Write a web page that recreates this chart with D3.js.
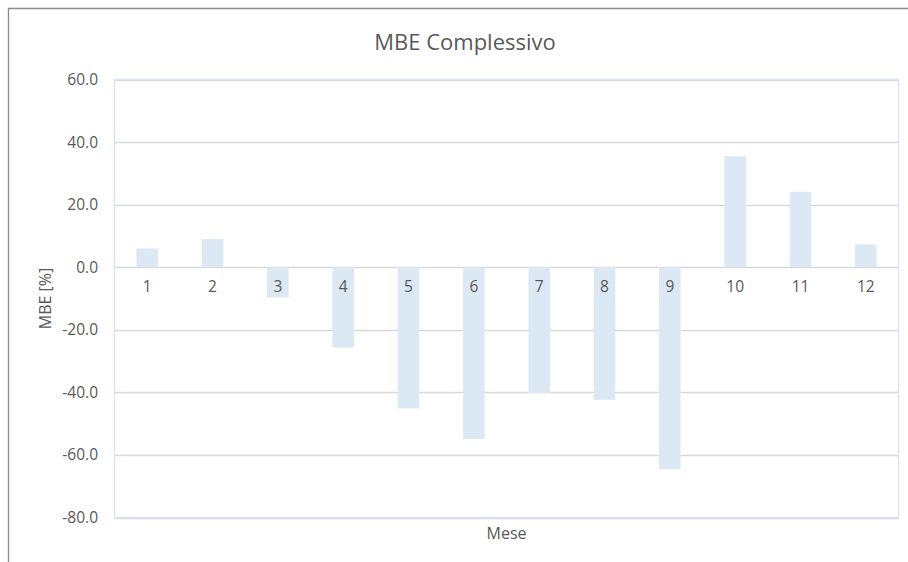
<!DOCTYPE html>
<html>
<head>
<meta charset="utf-8">
<script src="https://cdn.jsdelivr.net/npm/d3@7"></script>
<style>
  html, body { margin: 0; padding: 0; background: #fff; }
  svg { display: block; font-family: "Open Sans", "Liberation Sans", sans-serif; }
</style>
</head>
<body>
<svg id="chart" width="908" height="562"></svg>
<script>
// Monthly MBE values [%]
const months = ["1", "2", "3", "4", "5", "6", "7", "8", "9", "10", "11", "12"];
const mbe = [6.0, 9.0, -9.7, -25.7, -45.1, -54.9, -40.3, -42.4, -64.6, 35.5, 24.1, 7.3];
const yTicks = [60, 40, 20, 0, -20, -40, -60, -80];

const titleText = "MBE Complessivo";
const xTitle = "Mese";
const yTitle = "MBE [%]";

const svg = d3.select("#chart");
const W = 908, H = 562;
const plot = { left: 114.5, right: 898.5, top: 79.5, bottom: 517.5 };
const textColor = "#595959";

// One decimal, plain hyphen for negatives
const fmt = d => d.toFixed(1);

// Outer chart frame (top and left edges visible)
svg.append("path")
  .attr("d", `M8.5,${H} V8.5 H${W}`)
  .attr("fill", "none")
  .attr("stroke", "#8c8c8c")
  .attr("stroke-width", 1.3);

const x = d3.scaleBand()
  .domain(months)
  .range([plot.left, plot.right])
  .paddingInner(0.67)
  .paddingOuter(0.335);

const y = d3.scaleLinear()
  .domain([-80, 60])
  .range([plot.bottom, plot.top]);

// Horizontal gridlines
svg.append("g")
  .selectAll("line")
  .data(yTicks)
  .join("line")
  .attr("x1", plot.left)
  .attr("x2", plot.right)
  .attr("y1", d => Math.round(y(d)) + 0.5)
  .attr("y2", d => Math.round(y(d)) + 0.5)
  .attr("stroke", "#d9d9d9")
  .attr("stroke-width", 1.3);

// Bars
svg.append("g")
  .selectAll("rect")
  .data(mbe)
  .join("rect")
  .attr("x", (d, i) => x(months[i]))
  .attr("width", x.bandwidth())
  .attr("y", d => y(Math.max(0, d)))
  .attr("height", d => Math.abs(y(d) - y(0)))
  .attr("fill", "#dde8f5");

// Plot area border
svg.append("rect")
  .attr("x", plot.left)
  .attr("y", plot.top)
  .attr("width", plot.right - plot.left)
  .attr("height", plot.bottom - plot.top)
  .attr("fill", "none")
  .attr("stroke", "#dae5f4")
  .attr("stroke-width", 1.5);

// Y axis tick labels
const yAxis = d3.axisLeft(y)
  .tickValues(yTicks)
  .tickFormat(fmt)
  .tickSize(0)
  .tickPadding(0);
const yg = svg.append("g")
  .attr("transform", `translate(98,0)`)
  .call(yAxis);
yg.select(".domain").remove();
yg.selectAll("text")
  .attr("fill", textColor)
  .style("font-size", "15.5px")
  .style("font-family", "'Open Sans', sans-serif");

// Category labels just below the zero line
const xAxis = d3.axisBottom(x).tickSize(0).tickPadding(0);
const xg = svg.append("g")
  .attr("transform", `translate(0,${y(0) + 14})`)
  .call(xAxis);
xg.select(".domain").remove();
xg.selectAll("text")
  .attr("fill", textColor)
  .style("font-size", "15.5px")
  .style("font-family", "'Open Sans', sans-serif");

// Titles
svg.append("text")
  .attr("x", 465)
  .attr("y", 50)
  .attr("text-anchor", "middle")
  .attr("fill", textColor)
  .style("font-size", "22px")
  .text(titleText);

svg.append("text")
  .attr("x", (plot.left + plot.right) / 2)
  .attr("y", 539)
  .attr("text-anchor", "middle")
  .attr("fill", textColor)
  .style("font-size", "16px")
  .text(xTitle);

svg.append("text")
  .attr("transform", `translate(51,${(plot.top + plot.bottom) / 2}) rotate(-90)`)
  .attr("text-anchor", "middle")
  .attr("fill", textColor)
  .style("font-size", "16px")
  .text(yTitle);
</script>
</body>
</html>
